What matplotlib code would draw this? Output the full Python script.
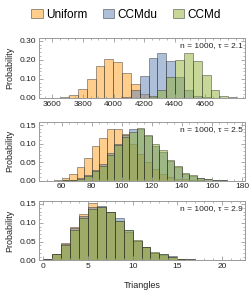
import numpy as np
import matplotlib
matplotlib.use("Agg")
import matplotlib.pyplot as plt
from matplotlib.patches import Patch
from matplotlib.ticker import MultipleLocator, FixedLocator, FormatStrFormatter

plt.rcParams['font.family'] = ['Liberation Sans', 'DejaVu Sans']

series = ['Uniform', 'CCMdu', 'CCMd']
colors = ['#FF9E1B', '#5E81B5', '#8FB032']

# panel 1: n = 1000, tau = 2.1  (bin start, bin width, probabilities)
p1_start, p1_width = 3650, 58
p1_uniform = [0.003, 0.016, 0.048, 0.099, 0.168, 0.203, 0.190, 0.130, 0.075, 0.022,
              0.005, 0.001, 0, 0, 0, 0, 0, 0, 0, 0]
p1_ccmdu = [0, 0, 0, 0, 0, 0, 0, 0.004, 0.042, 0.117,
            0.209, 0.235, 0.193, 0.109, 0.040, 0.012, 0.003, 0, 0, 0]
p1_ccmd = [0, 0, 0, 0, 0, 0, 0, 0, 0, 0.002,
           0.010, 0.040, 0.109, 0.198, 0.235, 0.193, 0.120, 0.042, 0.012, 0.003]
p1_ticks = [3600, 3800, 4000, 4200, 4400, 4600]

# panel 2: n = 1000, tau = 2.5
p2_start, p2_width = 55, 5
p2_uniform = [0.002, 0.008, 0.018, 0.037, 0.062, 0.094, 0.116, 0.139, 0.139, 0.126,
              0.098, 0.072, 0.050, 0.030, 0.018, 0.010, 0.005, 0.003, 0.001, 0.0005,
              0, 0, 0, 0, 0]
p2_ccmdu = [0, 0.001, 0.002, 0.006, 0.015, 0.028, 0.045, 0.075, 0.098, 0.122,
            0.140, 0.138, 0.120, 0.094, 0.078, 0.052, 0.036, 0.019, 0.013, 0.007,
            0.004, 0.002, 0.001, 0, 0]
p2_ccmd = [0, 0.001, 0.002, 0.005, 0.012, 0.025, 0.040, 0.070, 0.095, 0.118,
           0.132, 0.142, 0.124, 0.098, 0.082, 0.055, 0.038, 0.020, 0.014, 0.008,
           0.004, 0.002, 0.001, 0, 0]
p2_ticks = [60, 80, 100, 120, 140, 160, 180]

# panel 3: n = 1000, tau = 2.9
p3_start, p3_width = 0, 1
p3_uniform = [0.003, 0.016, 0.047, 0.090, 0.123, 0.153, 0.142, 0.128, 0.105, 0.075,
              0.052, 0.035, 0.021, 0.015, 0.009, 0.004, 0.002, 0.001, 0.001, 0.0005,
              0.0005, 0.0005]
p3_ccmdu = [0.003, 0.017, 0.043, 0.087, 0.117, 0.141, 0.144, 0.128, 0.113, 0.080,
            0.053, 0.036, 0.021, 0.016, 0.011, 0.005, 0.003, 0.001, 0.001, 0.0005,
            0.0005, 0.0005]
p3_ccmd = [0.003, 0.017, 0.041, 0.080, 0.113, 0.136, 0.143, 0.128, 0.106, 0.082,
           0.054, 0.036, 0.022, 0.016, 0.010, 0.005, 0.003, 0.001, 0.001, 0.0005,
           0.0005, 0.0005]
p3_ticks = [0, 5, 10, 15, 20]

panels = [
    dict(start=p1_start, width=p1_width, data=[p1_uniform, p1_ccmdu, p1_ccmd], ticks=p1_ticks,
         label='n = 1000, \u03c4 = 2.1', xlim=(3512, 4861), ylim=(0, 0.315),
         xminor=50, ymajor=0.10, ymin=0.02, pos=[0.156, 0.669, 0.824, 0.2027]),
    dict(start=p2_start, width=p2_width, data=[p2_uniform, p2_ccmdu, p2_ccmd], ticks=p2_ticks,
         label='n = 1000, \u03c4 = 2.5', xlim=(45, 182), ylim=(0, 0.158),
         xminor=5, ymajor=0.05, ymin=0.01, pos=[0.156, 0.390, 0.824, 0.1976]),
    dict(start=p3_start, width=p3_width, data=[p3_uniform, p3_ccmdu, p3_ccmd], ticks=p3_ticks,
         label='n = 1000, \u03c4 = 2.9', xlim=(-0.5, 22.6), ylim=(0, 0.158),
         xminor=1, ymajor=0.05, ymin=0.01, pos=[0.156, 0.120, 0.824, 0.201]),
]

fig = plt.figure(figsize=(2.5, 2.96), dpi=100)

frame_col = '#9a9a9a'
for i, p in enumerate(panels):
    ax = fig.add_axes(p['pos'])
    for vals, c in zip(p['data'], colors):
        vals = np.array(vals)
        left = p['start'] + p['width'] * np.arange(len(vals))
        ax.bar(left, vals, width=p['width'], align='edge', color=c, alpha=0.5,
               edgecolor=(0.15, 0.15, 0.15, 0.6), linewidth=0.6)
    ax.set_xlim(*p['xlim'])
    ax.set_ylim(*p['ylim'])
    ax.xaxis.set_major_locator(FixedLocator(p['ticks']))
    ax.xaxis.set_minor_locator(MultipleLocator(p['xminor']))
    ax.yaxis.set_major_locator(MultipleLocator(p['ymajor']))
    ax.yaxis.set_minor_locator(MultipleLocator(p['ymin']))
    ax.yaxis.set_major_formatter(FormatStrFormatter('%.2f'))
    ax.tick_params(which='both', direction='in', top=True, right=True,
                   color=frame_col, labelsize=6, labelcolor='#222222', pad=2)
    ax.tick_params(which='major', length=3, width=0.6)
    ax.tick_params(which='minor', length=1.5, width=0.5)
    for s in ax.spines.values():
        s.set_color(frame_col)
        s.set_linewidth(0.7)
    ax.set_ylabel('Probability', fontsize=6.5, labelpad=4, color='#222222')
    ax.text(0.99, 0.93, p['label'], transform=ax.transAxes, ha='right', va='top',
            fontsize=6, color='#222222')
    if i == 2:
        ax.set_xlabel('Triangles', fontsize=6.5, labelpad=8, color='#222222')

handles = [Patch(facecolor=c, alpha=0.5, edgecolor=(0.2, 0.2, 0.2, 0.6), linewidth=0.7)
           for c in colors]
fig.legend(handles, series, loc='center', bbox_to_anchor=(0.505, 0.951), ncol=3,
           frameon=False, fontsize=8.5, handlelength=0.95, handleheight=0.85,
           handletextpad=0.3, columnspacing=1.3)

fig.savefig('out.png', dpi=100)
